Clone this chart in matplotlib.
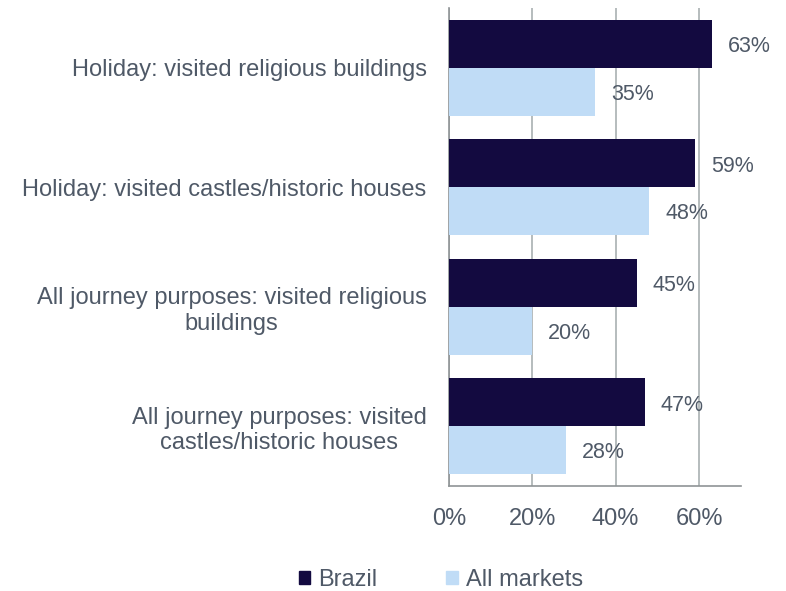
import matplotlib.pyplot as plt
import numpy as np
from matplotlib.patches import Patch

plt.rcParams['font.family'] = ['Liberation Sans', 'DejaVu Sans']

categories = [
    "Holiday: visited religious buildings",
    "Holiday: visited castles/historic houses",
    "All journey purposes: visited religious\nbuildings",
    "All journey purposes: visited\ncastles/historic houses",
]
brazil = [63, 59, 45, 47]
all_markets = [35, 48, 20, 28]
series_names = ["Brazil", "All markets"]
x_ticks = [0, 20, 40, 60]

navy = "#130a40"
light_blue = "#c0dcf6"
text_col = "#4f5967"
grid_col = "#a9b0b2"

fig = plt.figure(figsize=(7.86, 5.91), dpi=100)
ax = fig.add_axes([0.5712, 0.1777, 0.3712, 0.8088])

y = np.arange(len(categories))
h = 0.4
b1 = ax.barh(y - h / 2, brazil, height=h, color=navy, zorder=3)
b2 = ax.barh(y + h / 2, all_markets, height=h, color=light_blue, zorder=3)

# value labels sit just right of each bar end
for bars, vals in ((b1, brazil), (b2, all_markets)):
    for bar, v in zip(bars, vals):
        ax.annotate(f"{v}%", (v, bar.get_y() + bar.get_height() / 2),
                    xytext=(11.5, -2), textcoords="offset points",
                    ha="left", va="center", fontsize=15.5, color=text_col,
                    zorder=4)

ax.set_xlim(0, 70)
ax.set_ylim(len(categories) - 0.5, -0.5)
ax.set_xticks(x_ticks)
ax.set_xticklabels([f"{t}%" for t in x_ticks])
ax.set_yticks(y)
ax.set_yticklabels(categories, multialignment="center")
ax.tick_params(axis="both", length=0, labelsize=17, labelcolor=text_col)
ax.tick_params(axis="x", pad=16)
ax.tick_params(axis="y", pad=16)

ax.grid(axis="x", color=grid_col, linewidth=1.2, zorder=0)
for s in ("top", "right"):
    ax.spines[s].set_visible(False)
for s in ("left", "bottom"):
    ax.spines[s].set_color("#8f9496")
    ax.spines[s].set_linewidth(1.2)

handles = [Patch(color=navy), Patch(color=light_blue)]
fig.legend(handles, series_names, loc="center", bbox_to_anchor=(0.561, 0.019),
           ncol=2, frameon=False, fontsize=17, labelcolor=text_col,
           handlelength=0.5, handleheight=0.5, handletextpad=0.35,
           columnspacing=2.9)

fig.savefig("out.png", dpi=100)
